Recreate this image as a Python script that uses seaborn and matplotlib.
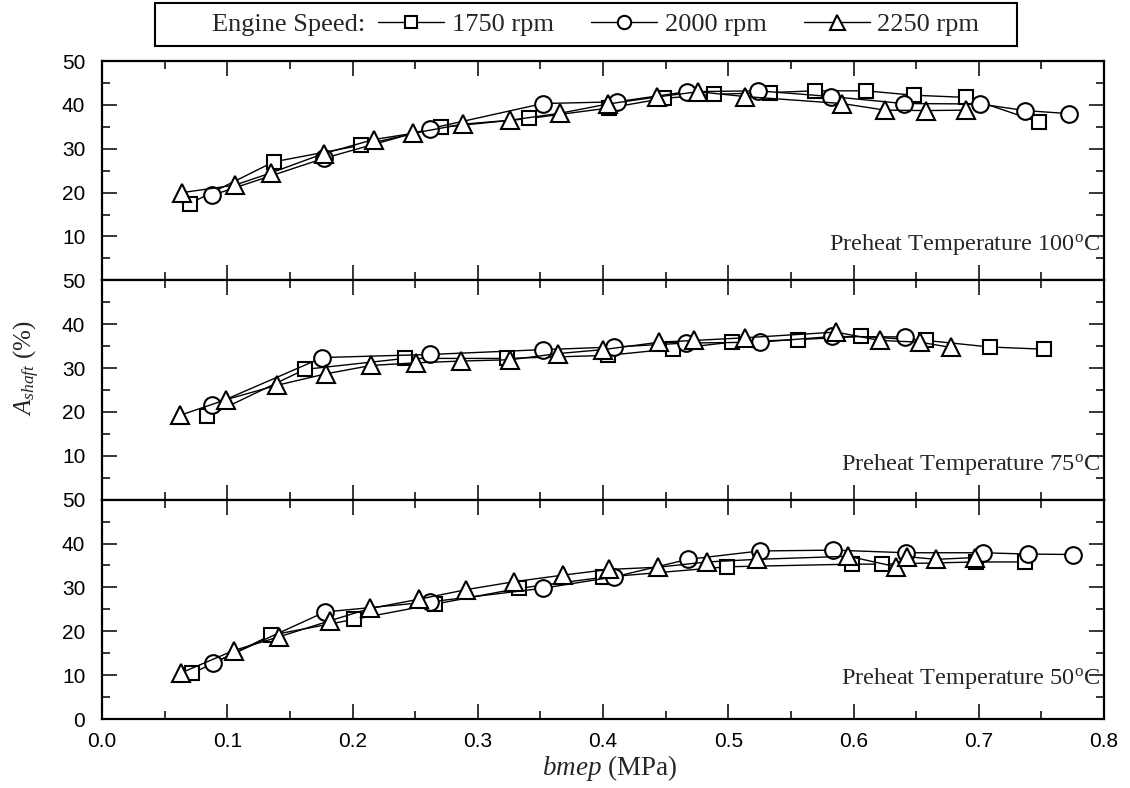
import matplotlib
matplotlib.use("Agg")
import matplotlib.pyplot as plt
import seaborn as sns
import pandas as pd
from matplotlib.lines import Line2D
from matplotlib.patches import Rectangle
from matplotlib.ticker import MultipleLocator

# ---------------- data ----------------
speeds = ["1750 rpm", "2000 rpm", "2250 rpm"]
temps = ["100", "75", "50"]

t100_1750_x = [0.070, 0.137, 0.207, 0.271, 0.341, 0.405, 0.449, 0.489, 0.533, 0.569, 0.610, 0.648, 0.690, 0.748]
t100_1750_y = [17.5, 27.0, 30.8, 34.9, 36.9, 39.3, 41.5, 42.4, 42.8, 43.2, 43.2, 42.2, 41.7, 36.1]
t100_2000_x = [0.088, 0.177, 0.262, 0.352, 0.411, 0.467, 0.524, 0.582, 0.640, 0.701, 0.737, 0.772]
t100_2000_y = [19.4, 27.8, 34.6, 40.3, 40.7, 43.0, 43.2, 41.9, 40.3, 40.2, 38.7, 38.0]
t100_2250_x = [0.064, 0.106, 0.135, 0.177, 0.217, 0.248, 0.288, 0.326, 0.366, 0.404, 0.443, 0.476, 0.513, 0.591, 0.625, 0.658, 0.690]
t100_2250_y = [20.0, 21.7, 24.5, 28.9, 32.1, 33.5, 35.6, 36.5, 38.1, 40.2, 41.8, 43.0, 41.9, 40.3, 38.8, 38.7, 38.8]

t75_1750_x = [0.084, 0.162, 0.242, 0.323, 0.404, 0.456, 0.503, 0.556, 0.606, 0.658, 0.709, 0.752]
t75_1750_y = [19.0, 29.7, 32.2, 32.2, 32.9, 34.4, 35.9, 36.5, 37.2, 36.3, 34.8, 34.3]
t75_2000_x = [0.088, 0.176, 0.262, 0.352, 0.409, 0.466, 0.525, 0.583, 0.641]
t75_2000_y = [21.5, 32.4, 33.1, 34.2, 34.8, 35.7, 35.9, 37.2, 37.1]
t75_2250_x = [0.062, 0.099, 0.140, 0.179, 0.215, 0.251, 0.287, 0.326, 0.364, 0.400, 0.445, 0.473, 0.513, 0.586, 0.621, 0.653, 0.678]
t75_2250_y = [19.2, 22.8, 26.1, 28.7, 30.6, 31.2, 31.6, 31.9, 33.3, 34.2, 35.9, 36.3, 36.9, 38.2, 36.3, 35.9, 34.7]

t50_1750_x = [0.072, 0.135, 0.201, 0.266, 0.333, 0.400, 0.499, 0.599, 0.623, 0.698, 0.737]
t50_1750_y = [10.4, 19.1, 22.7, 26.2, 29.8, 32.3, 34.7, 35.3, 35.3, 35.8, 35.8]
t50_2000_x = [0.089, 0.178, 0.262, 0.352, 0.409, 0.468, 0.525, 0.584, 0.642, 0.703, 0.739, 0.775]
t50_2000_y = [12.8, 24.4, 26.7, 29.8, 32.4, 36.4, 38.3, 38.5, 37.9, 37.9, 37.6, 37.5]
t50_2250_x = [0.063, 0.105, 0.141, 0.182, 0.214, 0.253, 0.291, 0.329, 0.368, 0.405, 0.444, 0.483, 0.523, 0.596, 0.634, 0.643, 0.666, 0.697]
t50_2250_y = [10.5, 15.6, 18.7, 22.4, 25.2, 27.3, 29.5, 31.3, 32.8, 34.1, 34.6, 35.8, 36.4, 37.1, 34.7, 37.0, 36.4, 36.8]

x_ticks = [0.0, 0.1, 0.2, 0.3, 0.4, 0.5, 0.6, 0.7, 0.8]

series = {
    ("100", "1750 rpm"): (t100_1750_x, t100_1750_y),
    ("100", "2000 rpm"): (t100_2000_x, t100_2000_y),
    ("100", "2250 rpm"): (t100_2250_x, t100_2250_y),
    ("75", "1750 rpm"): (t75_1750_x, t75_1750_y),
    ("75", "2000 rpm"): (t75_2000_x, t75_2000_y),
    ("75", "2250 rpm"): (t75_2250_x, t75_2250_y),
    ("50", "1750 rpm"): (t50_1750_x, t50_1750_y),
    ("50", "2000 rpm"): (t50_2000_x, t50_2000_y),
    ("50", "2250 rpm"): (t50_2250_x, t50_2250_y),
}
rows = []
for (t, s), (xs, ys) in series.items():
    for i, (xv, yv) in enumerate(zip(xs, ys)):
        rows.append({"temp": t, "speed": s, "bmep": xv, "A": yv, "i": i})
df = pd.DataFrame(rows)

# ---------------- style ----------------
sns.set_style("ticks")
plt.rcParams["font.family"] = ["Liberation Sans", "DejaVu Sans"]
plt.rcParams["mathtext.fontset"] = "custom"
plt.rcParams["mathtext.rm"] = "Liberation Serif"
plt.rcParams["mathtext.it"] = "Liberation Serif:italic"
plt.rcParams["mathtext.bf"] = "Liberation Serif:bold"

SERIF = ["Liberation Serif", "DejaVu Serif"]
markers = {"1750 rpm": "s", "2000 rpm": "o", "2250 rpm": "^"}
msizes = {"1750 rpm": 10.5, "2000 rpm": 12, "2250 rpm": 13.5}

W, H = 1130, 788
fig = plt.figure(figsize=(W / 100, H / 100), dpi=100)
left, right = 102 / W, 1104 / W
bottom, top = 1 - 719 / H, 1 - 61 / H
h = (top - bottom) / 3

text_y = {"100": 0.165, "75": 0.16, "50": 0.185}

for k, t in enumerate(temps):
    ax = fig.add_axes([left, top - (k + 1) * h, right - left, h])
    sub = df[df["temp"] == t]
    for s in speeds:
        d = sub[sub["speed"] == s].sort_values("i")
        sns.lineplot(data=d, x="bmep", y="A", ax=ax, sort=False, estimator=None,
                     color="black", lw=1.0, marker=markers[s], ms=msizes[s],
                     mfc="white", mec="black", mew=1.5, legend=False)
    ax.set_xlim(0, 0.8)
    ax.set_ylim(0, 50)
    ax.set_xticks(x_ticks)
    ax.xaxis.set_minor_locator(MultipleLocator(0.05))
    ax.yaxis.set_minor_locator(MultipleLocator(5))
    if t == "50":
        ax.set_yticks([0, 10, 20, 30, 40, 50])
        ax.set_xticklabels([f"{v:.1f}" for v in x_ticks])
    else:
        ax.set_yticks([10, 20, 30, 40, 50])
        ax.set_xticklabels([])
    ax.set_xlabel("")
    ax.set_ylabel("")
    ax.tick_params(which="both", direction="in", top=True, right=True,
                   width=1.1, colors="black", labelsize=15)
    ax.tick_params(which="major", length=11)
    ax.tick_params(which="minor", length=6)
    ax.tick_params(axis="y", pad=12)
    ax.tick_params(axis="x", pad=9)
    for sp in ax.spines.values():
        sp.set_linewidth(1.6)
        sp.set_color("black")
    ax.text(0.996, text_y[t], f"Preheat Temperature {t}$^{{\\rm o}}$C",
            transform=ax.transAxes, ha="right", va="center",
            family=SERIF, fontsize=17.5)

fig.text(0.024, 1 - 368 / H, r"$A_{shaft}$ (%)", rotation=90,
         ha="center", va="center", family=SERIF, fontsize=18)
fig.text(0.54, 1 - 768 / H, r"$bmep$ (MPa)", ha="center", va="center",
         family=SERIF, fontsize=19.5)

# legend: frame box + leading text + legend entries
fig.patches.append(Rectangle((155 / W, 1 - 46 / H), (1017 - 155) / W, 43 / H,
                             transform=fig.transFigure, fill=False,
                             edgecolor="black", linewidth=1.5))
fig.text(212 / W, 1 - 24.5 / H, "Engine Speed:", ha="left", va="center",
         family=SERIF, fontsize=19)
handles = [Line2D([], [], color="black", lw=1.0, marker=markers[s],
                  ms=msizes[s] * 0.8, mfc="white", mec="black", mew=1.5)
           for s in speeds]
fig.legend(handles, speeds, ncol=3, loc="center left",
           bbox_to_anchor=(378 / W, 1 - 24.5 / H), frameon=False,
           prop={"family": SERIF, "size": 19},
           handlelength=2.5, handletextpad=0.3, columnspacing=1.4,
           borderpad=0, borderaxespad=0)

fig.savefig("out.png", dpi=100)
